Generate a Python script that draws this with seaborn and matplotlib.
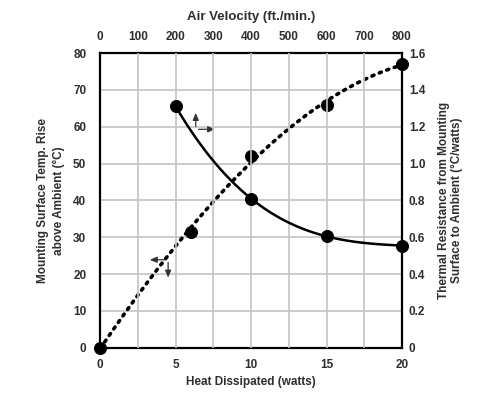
import matplotlib
matplotlib.use("Agg")
import matplotlib.pyplot as plt
import seaborn as sns
import pandas as pd
import numpy as np

# Temperature rise vs heat dissipated (bottom / left axes)
heat_watts = [0, 6, 10, 15, 20]
temp_rise = [0, 31.5, 52, 66, 77]

# Thermal resistance vs air velocity (top / right axes)
air_velocity = [200, 400, 600, 800]
thermal_res = [1.31, 0.81, 0.605, 0.555]

left_ticks = list(range(0, 81, 10))
right_ticks = [0, 0.2, 0.4, 0.6, 0.8, 1.0, 1.2, 1.4, 1.6]
right_labels = ["0", "0.2", "0.4", "0.6", "0.8", "1.0", "1.2", "1.4", "1.6"]
bottom_ticks = [0, 5, 10, 15, 20]
top_ticks = list(range(0, 801, 100))

sns.set_theme(style="white")
plt.rcParams["font.family"] = ["Liberation Sans", "DejaVu Sans"]
plt.rcParams["font.weight"] = "bold"

txt = "#2e2e2e"
fs = 8.5
fig = plt.figure(figsize=(4.89, 3.93), dpi=100)
pos = [0.205, 0.115, 0.617, 0.75]
ax = fig.add_axes(pos)
ax2 = fig.add_axes(pos, frameon=False)

temp_df = pd.DataFrame({"heat": heat_watts, "temp": temp_rise})
res_df = pd.DataFrame({"vel": air_velocity, "res": thermal_res})

# grid from the top velocity ticks and left temp ticks
for v in top_ticks[1:-1]:
    ax2.axvline(v, color="#c4c4c4", lw=1.2, zorder=0)
for t in left_ticks[1:-1]:
    ax.axhline(t, color="#c4c4c4", lw=1.2, zorder=0)

sns.regplot(data=temp_df, x="heat", y="temp", order=3, ci=None, scatter=False,
            ax=ax, color="black",
            line_kws=dict(lw=2.6, linestyle=(0, (0.6, 1.6)), dash_capstyle="round"))
sns.scatterplot(data=temp_df, x="heat", y="temp", ax=ax, color="black", s=75,
                edgecolor="black", zorder=5, clip_on=False)

sns.regplot(data=res_df, x="vel", y="res", order=3, ci=None, scatter=False,
            ax=ax2, color="black", line_kws=dict(lw=1.8))
sns.scatterplot(data=res_df, x="vel", y="res", ax=ax2, color="black", s=75,
                edgecolor="black", zorder=5, clip_on=False)

ax.set_xlim(0, 20)
ax.set_ylim(0, 80)
ax2.set_xlim(0, 800)
ax2.set_ylim(0, 1.6)

ax.set_xticks(bottom_ticks)
ax.set_yticks(left_ticks)
ax2.set_xticks(top_ticks)
ax2.set_yticks(right_ticks)
ax2.set_yticklabels(right_labels)
ax2.xaxis.tick_top()
ax2.xaxis.set_label_position("top")
ax2.yaxis.tick_right()
ax2.yaxis.set_label_position("right")

for a in (ax, ax2):
    a.tick_params(length=0, labelsize=fs, labelcolor=txt)
    for lab in a.get_xticklabels() + a.get_yticklabels():
        lab.set_fontweight("bold")
ax.tick_params(axis="y", pad=10)
ax.tick_params(axis="x", pad=8)
ax2.tick_params(axis="x", pad=7)
ax2.tick_params(axis="y", pad=5)

for s in ax.spines.values():
    s.set_visible(True)
    s.set_color("black")
    s.set_linewidth(1.6)

ax.set_xlabel("Heat Dissipated (watts)", fontsize=fs, fontweight="bold", color=txt, labelpad=4)
ax.set_ylabel("Mounting Surface Temp. Rise\nabove Ambient (°C)", fontsize=fs,
              fontweight="bold", color=txt, labelpad=6, linespacing=1.45)
ax2.set_xlabel("Air Velocity (ft./min.)", fontsize=9.5, fontweight="bold", color=txt, labelpad=8)
ax2.set_ylabel("Thermal Resistance from Mounting\nSurface to Ambient (°C/watts)", fontsize=fs,
               fontweight="bold", color=txt, labelpad=9, linespacing=1.1, rotation=90)

# axis indicator arrows
arr = dict(arrowstyle="-|>,head_length=0.35,head_width=0.15", color="#333333", lw=0.9)
ax.annotate("", xy=(6.33, 64.5), xytext=(6.33, 59.3), arrowprops=arr)
ax.annotate("", xy=(7.8, 59.3), xytext=(6.33, 59.3), arrowprops=arr)
ax.annotate("", xy=(3.1, 23.9), xytext=(4.5, 23.9), arrowprops=arr)
ax.annotate("", xy=(4.5, 18.3), xytext=(4.5, 23.9), arrowprops=arr)

fig.savefig("out.png", dpi=100)
